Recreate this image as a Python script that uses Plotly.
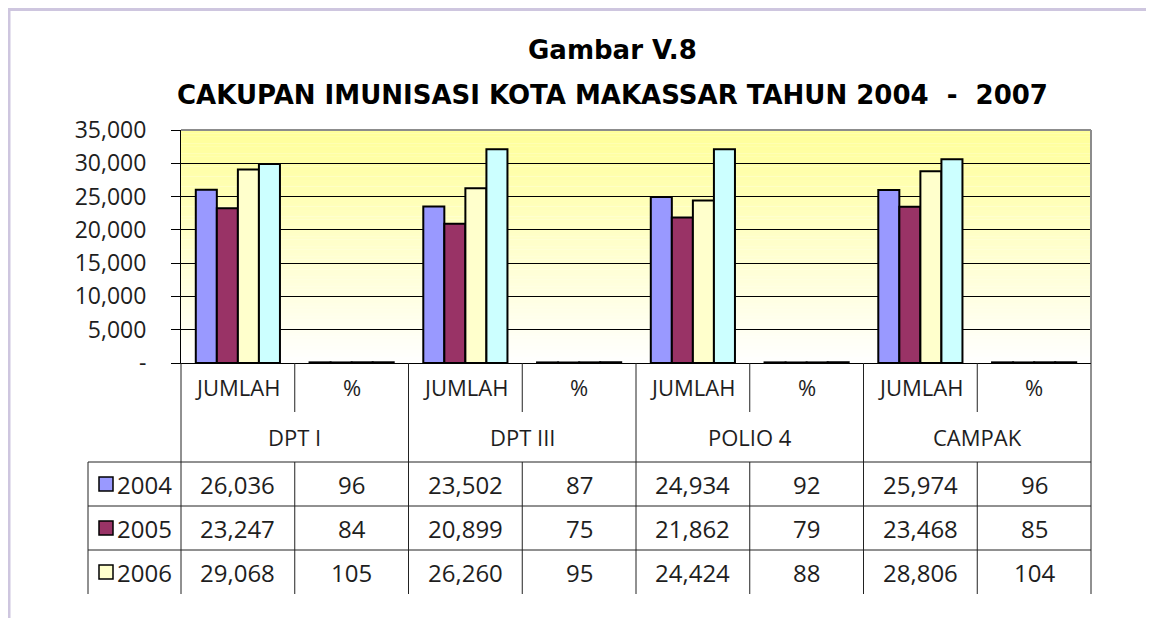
import plotly.graph_objects as go

# ---------------- data ----------------
programs = ["DPT I", "DPT III", "POLIO 4", "CAMPAK"]
measures = ["JUMLAH", "%"]
years = ["2004", "2005", "2006", "2007"]

jumlah_2004 = [26036, 23502, 24934, 25974]
pct_2004 = [96, 87, 92, 96]
jumlah_2005 = [23247, 20899, 21862, 23468]
pct_2005 = [84, 75, 79, 85]
jumlah_2006 = [29068, 26260, 24424, 28806]
pct_2006 = [105, 95, 88, 104]
# 2007 row of the table is cut off in the picture: values
jumlah_2007 = [29900, 32100, 32100, 30600]
pct_2007 = [108, 116, 116, 110]

y_tickvals = [0, 5000, 10000, 15000, 20000, 25000, 30000, 35000]
y_ticktext = ["-", "5,000", "10,000", "15,000", "20,000", "25,000", "30,000", "35,000"]

title_1 = "Gambar V.8"
title_2 = "CAKUPAN IMUNISASI KOTA MAKASSAR TAHUN 2004  -  2007"

# ---------------- styles ----------------
colors = {"2004": "#9999FF", "2005": "#993366", "2006": "#FFFFCC", "2007": "#CCFFFF"}
OFF = 8                      # page body margin
WIN_W, WIN_H = 1154, 618
W, H = WIN_W - OFF, WIN_H - OFF
L, R, T, B = 181, 1091, 130, 363   # plot area in window pixels
PW, PH = R - L, B - T
FONT = "Open Sans"
TXT = "#1e1e1e"
LINE = "#222222"


def px(x):
    return (x - L) / PW


def py(y):
    return (B - y) / PH


series = {
    "2004": (jumlah_2004, pct_2004),
    "2005": (jumlah_2005, pct_2005),
    "2006": (jumlah_2006, pct_2006),
    "2007": (jumlah_2007, pct_2007),
}

categories = [f"{p} {m}" for p in programs for m in measures]


def interleave(j, p):
    out = []
    for a, b in zip(j, p):
        out += [a, b]
    return out


fig = go.Figure()
for yr in years:
    j, p = series[yr]
    fig.add_trace(go.Bar(
        x=categories, y=interleave(j, p), name=yr,
        marker=dict(color=colors[yr], line=dict(color="black", width=2)),
        showlegend=False,
    ))

shapes = []
# gradient plot background: white at bottom -> yellow at top
nb = 70
for i in range(nb):
    frac = (i + 0.5) / nb
    b = int(round(0xFF - (0xFF - 0x99) * frac))
    shapes.append(dict(type="rect", xref="paper", yref="paper",
                       x0=0, x1=1, y0=i / nb, y1=min(1, (i + 1.05) / nb),
                       fillcolor=f"rgb(255,255,{b})", line=dict(width=0), layer="below"))
# plot border top / right (grey)
shapes.append(dict(type="line", xref="paper", yref="paper", x0=0, x1=1, y0=1, y1=1,
                   line=dict(color="#8c8c8c", width=2)))
shapes.append(dict(type="line", xref="paper", yref="paper", x0=1, x1=1, y0=0, y1=1,
                   line=dict(color="#8c8c8c", width=2)))

# frame border (lavender)
shapes.append(dict(type="rect", xref="paper", yref="paper",
                   x0=px(OFF), x1=px(10.5), y0=py(WIN_H + 5), y1=py(8),
                   fillcolor="#CEC6DF", line=dict(width=0)))
shapes.append(dict(type="rect", xref="paper", yref="paper",
                   x0=px(OFF), x1=px(WIN_W + 5), y0=py(11), y1=py(OFF),
                   fillcolor="#CEC6DF", line=dict(width=0)))

# ---------------- data table ----------------
ncat = len(categories)
y_head1, y_head2, y_head_split, y_head_line = 387, 437, 412, 462
row_h = 44
rows = years[:3]  # only three rows are visible
y_bottom = y_head_line + row_h * len(rows)


def vline(xp, y0, y1):
    shapes.append(dict(type="line", xref="paper", yref="paper",
                       x0=px(xp), x1=px(xp), y0=py(y0), y1=py(y1),
                       line=dict(color=LINE, width=1)))


def hline(x0, x1, yp):
    shapes.append(dict(type="line", xref="paper", yref="paper",
                       x0=px(x0), x1=px(x1), y0=py(yp), y1=py(yp),
                       line=dict(color=LINE, width=1)))


for k in range(ncat + 1):
    xk = L + PW * k / ncat
    if k % 2 == 0:
        vline(xk, B, y_bottom)
    else:
        vline(xk, B, y_head_split)
        vline(xk, y_head_line, y_bottom)
vline(88, y_head_line, y_bottom)
hline(88, R, y_head_line)
for r in range(1, len(rows)):
    hline(88, R, y_head_line + row_h * r)

annotations = []


def text(xp, yp, s, size=21, xanchor="center", font=FONT, color=TXT):
    annotations.append(dict(xref="paper", yref="paper", x=px(xp), y=py(yp), text=s,
                            showarrow=False, xanchor=xanchor, yanchor="middle",
                            font=dict(family=font, size=size, color=color)))


for k, cat in enumerate(categories):
    xc = L + PW * (k + 0.5) / ncat
    text(xc, y_head1, measures[k % 2], size=22)
for g, prog in enumerate(programs):
    xc = L + PW * (2 * g + 1) / ncat
    text(xc, y_head2, prog, size=22)

for r, yr in enumerate(rows):
    yc = y_head_line + row_h * (r + 0.5)
    j, p = series[yr]
    vals = interleave([f"{v:,}" for v in j], [f"{v}" for v in p])
    for k, v in enumerate(vals):
        xc = L + PW * (k + 0.5) / ncat
        text(xc, yc, v, size=24)
    # legend key
    shapes.append(dict(type="rect", xref="paper", yref="paper",
                       x0=px(99), x1=px(113), y0=py(yc + 7), y1=py(yc - 7),
                       fillcolor=colors[yr], line=dict(color="black", width=1.5)))
    text(115, yc, yr, size=24, xanchor="left")

# title
text(612, 50, "<b>" + title_1 + "</b>", size=26, font="DejaVu Sans", color="black")
text(612, 95, "<b>" + title_2 + "</b>", size=26, font="DejaVu Sans", color="black")

fig.update_layout(
    width=W, height=H,
    margin=dict(l=L - OFF, r=WIN_W - R, t=T - OFF, b=WIN_H - B, pad=0),
    paper_bgcolor="white", plot_bgcolor="white",
    barmode="group", bargap=0.26, bargroupgap=0,
    shapes=shapes, annotations=annotations,
    font=dict(family=FONT, color=TXT),
)
fig.update_xaxes(showticklabels=False, showgrid=False, ticks="", showline=True,
                 linecolor="black", linewidth=1, range=[-0.5, ncat - 0.5], fixedrange=True)
fig.update_yaxes(range=[0, 35000], tickvals=y_tickvals, ticktext=y_ticktext,
                 showgrid=True, gridcolor="black", gridwidth=1,
                 ticks="outside", ticklen=9, tickcolor="black", tickwidth=1,
                 showline=True, linecolor="black", linewidth=1,
                 ticklabelstandoff=20, zeroline=False,
                 tickfont=dict(family=FONT, size=23, color=TXT))

fig.write_html("out.html")
